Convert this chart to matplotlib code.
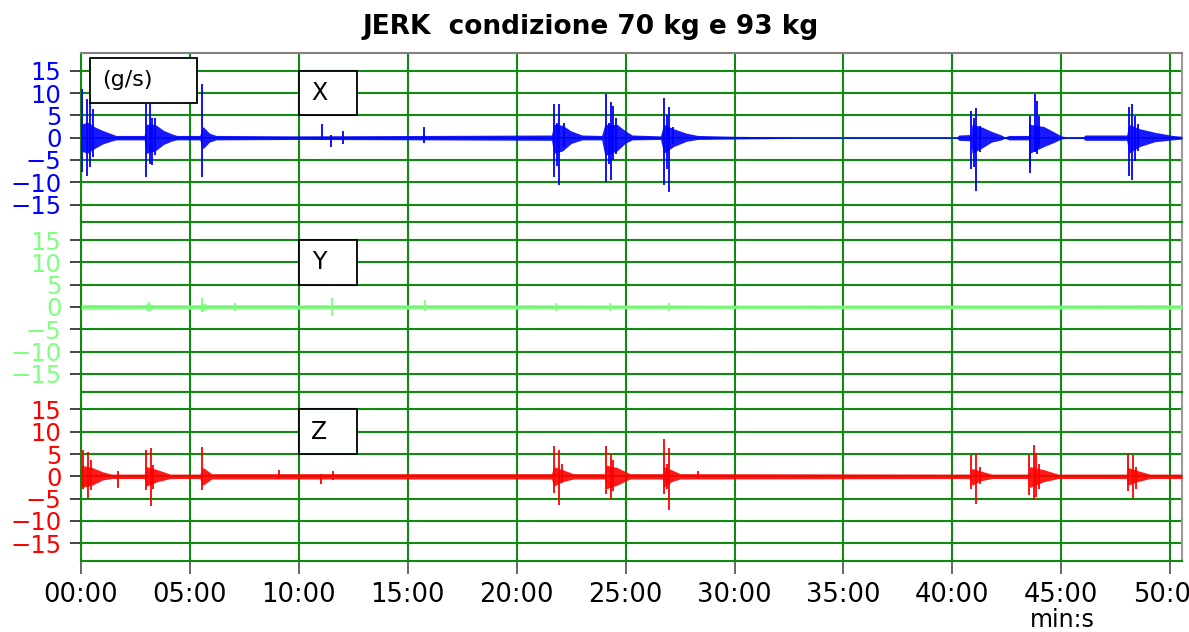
import numpy as np
import matplotlib.pyplot as plt
from matplotlib.patches import Rectangle
from matplotlib.ticker import FuncFormatter, MultipleLocator

# time in minutes, jerk in g/s
# envelope of the trace: (t, upper, lower)
x_env_t = [0.0, 0.3, 0.6, 1.0, 1.45, 1.6, 2.9, 3.0, 3.4, 3.8, 4.2, 4.4, 5.45, 5.6, 5.9, 6.2,
           10.0, 16.0, 21.6, 21.7, 22.1, 22.5, 23.0, 23.9, 24.05, 24.6, 25.0, 25.3, 26.6,
           26.75, 27.2, 27.8, 28.3, 30.0, 33.0, 40.2, 40.3, 40.85, 40.9, 41.3, 41.8, 42.25,
           42.4, 42.6, 43.5, 43.55, 44.2, 44.7, 45.0, 45.2, 46.0, 46.1, 48.0, 48.1, 48.6,
           49.3, 50.1, 50.54]
x_env_hi = [3.0, 3.5, 2.5, 1.6, 0.8, 0.5, 0.5, 3.0, 3.0, 1.6, 0.8, 0.5, 0.5, 2.5, 1.0, 0.5,
            0.4, 0.5, 0.6, 3.0, 2.8, 1.5, 0.6, 0.5, 3.0, 3.0, 1.5, 0.6, 0.4,
            3.0, 2.0, 1.0, 0.5, 0.3, 0.15, 0.15, 0.6, 0.7, 3.0, 2.5, 1.4, 0.6,
            0.15, 0.5, 0.5, 3.0, 2.5, 1.2, 0.4, 0.15, 0.2, 0.6, 0.6, 3.0, 2.0,
            1.2, 0.5, 0.3]
x_env_lo = [-3.0, -3.5, -2.5, -1.4, -0.7, -0.5, -0.5, -3.5, -3.0, -1.5, -0.7, -0.5, -0.5, -2.5, -1.0, -0.5,
            -0.4, -0.5, -0.6, -3.5, -3.0, -1.3, -0.5, -0.5, -4.0, -3.0, -1.2, -0.5, -0.4,
            -3.5, -2.0, -0.8, -0.4, -0.3, -0.15, -0.15, -0.6, -0.7, -3.5, -2.5, -1.0, -0.5,
            -0.15, -0.5, -0.5, -3.5, -2.0, -1.0, -0.3, -0.15, -0.2, -0.6, -0.6, -3.5, -2.0,
            -0.9, -0.5, -0.3]

# single peaks: (t, max, min)
x_spk_t = [0.05, 0.28, 0.40, 0.55, 3.0, 3.15, 3.26, 3.41, 5.55, 11.06, 11.49, 12.02, 15.74,
           21.71, 21.83, 21.94, 22.17, 24.12, 24.23, 24.35, 24.43, 24.58, 26.75, 26.88, 27.0, 27.18,
           40.87, 40.98, 41.1, 41.29, 43.55, 43.58, 43.78, 43.89, 43.98, 48.1, 48.26, 48.37, 48.52]
x_spk_hi = [10.9, 8.7, 8.0, 6.4, 7.5, 7.5, 4.5, 4.5, 12.0, 3.0, 0.5, 1.5, 2.3,
            7.5, 3.4, 7.5, 3.4, 9.8, 3.4, 7.9, 7.2, 4.5, 8.8, 5.0, 6.8, 2.3,
            6.0, 4.5, 6.6, 2.7, 4.9, 3.0, 9.8, 8.3, 4.9, 6.8, 7.5, 4.9, 3.0]
x_spk_lo = [-7.8, -8.5, -6.6, -4.4, -8.9, -5.9, -6.2, -3.8, -8.9, -0.5, -2.2, -1.5, -1.1,
            -8.9, -6.3, -10.7, -2.2, -10.0, -5.9, -9.5, -5.1, -3.7, -10.7, -7.0, -12.2, -1.5,
            -7.0, -6.6, -11.9, -3.3, -6.6, -8.0, -3.3, -3.7, -2.0, -8.5, -9.4, -5.3, -2.9]

y_env_t = [0.0, 2.9, 3.1, 3.3, 5.4, 5.6, 5.8, 20.0, 30.0, 50.54]
y_env_hi = [0.6, 0.5, 0.9, 0.5, 0.5, 0.9, 0.5, 0.5, 0.4, 0.5]
y_env_lo = [-0.6, -0.5, -0.9, -0.5, -0.5, -0.9, -0.5, -0.5, -0.4, -0.5]
y_spk_t = [3.1, 5.55, 7.07, 11.5, 15.8, 21.8, 24.3, 27.0]
y_spk_hi = [1.2, 2.0, 0.8, 2.1, 1.5, 1.0, 1.0, 1.0]
y_spk_lo = [-1.0, -1.2, -1.0, -2.0, -1.0, -0.9, -1.0, -0.9]

z_env_t = [0.0, 0.5, 1.0, 1.4, 2.9, 3.0, 3.5, 4.1, 5.45, 5.6, 6.0, 21.6, 21.7, 22.1, 22.6,
           24.05, 24.1, 24.6, 25.2, 26.7, 26.75, 27.1, 27.5, 40.8, 40.9, 41.3, 41.8, 43.5,
           43.55, 44.2, 44.85, 48.0, 48.05, 48.5, 49.06, 50.54]
z_env_hi = [2.5, 2.0, 1.0, 0.5, 0.5, 2.2, 1.5, 0.5, 0.5, 2.0, 0.6, 0.6, 2.2, 1.5, 0.6,
            0.6, 2.5, 2.0, 0.6, 0.6, 2.2, 1.5, 0.6, 0.5, 1.8, 1.2, 0.5, 0.5,
            2.2, 1.5, 0.5, 0.5, 2.0, 1.3, 0.5, 0.5]
z_env_lo = [-2.5, -2.0, -0.8, -0.5, -0.5, -2.2, -1.2, -0.5, -0.5, -2.0, -0.6, -0.6, -2.2, -1.2, -0.6,
            -0.6, -2.8, -2.0, -0.6, -0.6, -2.5, -1.2, -0.6, -0.5, -2.0, -1.0, -0.5, -0.5,
            -2.5, -1.2, -0.5, -0.5, -2.0, -1.2, -0.5, -0.5]
z_spk_t = [0.09, 0.32, 0.47, 1.7, 3.0, 3.2, 3.3, 5.55, 9.1, 11.03, 11.56,
           21.71, 21.94, 22.06, 24.12, 24.35, 24.43, 26.75, 26.88, 26.98, 28.33,
           40.87, 41.1, 41.25, 43.52, 43.75, 43.86, 43.98, 48.06, 48.3, 48.45]
z_spk_hi = [5.8, 5.4, 3.6, 1.2, 5.8, 6.3, 2.5, 6.6, 1.5, 0.6, 1.3,
            6.7, 6.0, 2.8, 6.9, 4.9, 3.6, 8.4, 2.8, 6.4, 1.3,
            4.7, 5.2, 2.0, 4.8, 7.0, 5.0, 2.7, 5.3, 4.8, 2.0]
z_spk_lo = [-2.8, -4.9, -3.1, -2.6, -3.1, -6.6, -2.8, -3.1, -0.6, -1.7, -0.8,
            -3.7, -6.5, -1.6, -3.9, -5.0, -3.4, -4.0, -2.8, -7.6, -0.6,
            -2.8, -6.1, -1.7, -4.3, -5.4, -4.7, -2.8, -3.2, -4.9, -2.8]

channels = ['X', 'Y', 'Z']
colors = ['#0000ff', '#80ff80', '#ff0000']
envs = [(x_env_t, x_env_hi, x_env_lo), (y_env_t, y_env_hi, y_env_lo), (z_env_t, z_env_hi, z_env_lo)]
spikes = [(x_spk_t, x_spk_hi, x_spk_lo), (y_spk_t, y_spk_hi, y_spk_lo), (z_spk_t, z_spk_hi, z_spk_lo)]

plt.rcParams['font.family'] = 'DejaVu Sans'
W, H = 1189, 632
fig = plt.figure(figsize=(W / 100, H / 100), dpi=100)

left, right, top, bottom = 81 / W, 1182 / W, 1 - 53 / H, 1 - 561 / H
ph = (top - bottom) / 3
grid_col = '#118a11'

axes = []
for i in range(3):
    ax = fig.add_axes([left, top - (i + 1) * ph, right - left, ph])
    axes.append(ax)
    ax.set_xlim(0, 50.54)
    ax.set_ylim(-19, 19)
    ax.set_yticks([-15, -10, -5, 0, 5, 10, 15])
    ax.xaxis.set_major_locator(MultipleLocator(5))
    ax.set_axisbelow(True)
    ax.grid(True, color=grid_col, lw=1.5)
    for s in ax.spines.values():
        s.set_color(grid_col)
        s.set_linewidth(1.5)
    ax.spines['right'].set_color('#9a9a9a')
    ax.tick_params(axis='y', length=8, width=1.4, color='#444444', pad=6,
                   labelsize=17.5, labelcolor=colors[i])

    t, hi, lo = envs[i]
    ax.fill_between(t, lo, hi, color=colors[i], lw=0, alpha=0.9, zorder=3)
    st, shi, slo = spikes[i]
    ax.vlines(st, slo, shi, color=colors[i], lw=1.3, zorder=3)

    # channel label box
    ax.add_patch(Rectangle((10.0, 5.0), 2.67, 10.0, facecolor='white', edgecolor='black',
                           lw=1.3, zorder=6))
    ax.text(10.92, 10.0, channels[i], ha='center', va='center', fontsize=17, zorder=7)

    if i < 2:
        ax.tick_params(axis='x', length=0, labelbottom=False)

axes[0].spines['top'].set_color('#808080')
axes[0].add_patch(Rectangle((0.41, 7.8), 4.91, 10.1, facecolor='white', edgecolor='black',
                            lw=1.3, zorder=6))
axes[0].text(0.95, 12.9, '(g/s)', ha='left', va='center', fontsize=16, zorder=7)

axes[2].xaxis.set_major_formatter(FuncFormatter(lambda v, p: f"{int(round(v)):02d}:00"))
axes[2].tick_params(axis='x', length=9, width=1.4, color='#666666', pad=6, labelsize=18.5)

fig.text(0.497, 1 - 27 / H, 'JERK  condizione 70 kg e 93 kg', ha='center', va='center',
         fontsize=19, fontweight='bold')
fig.text(1062 / W, 1 - 620 / H, 'min:s', ha='center', va='center', fontsize=17)

fig.savefig('out.png', dpi=100)
